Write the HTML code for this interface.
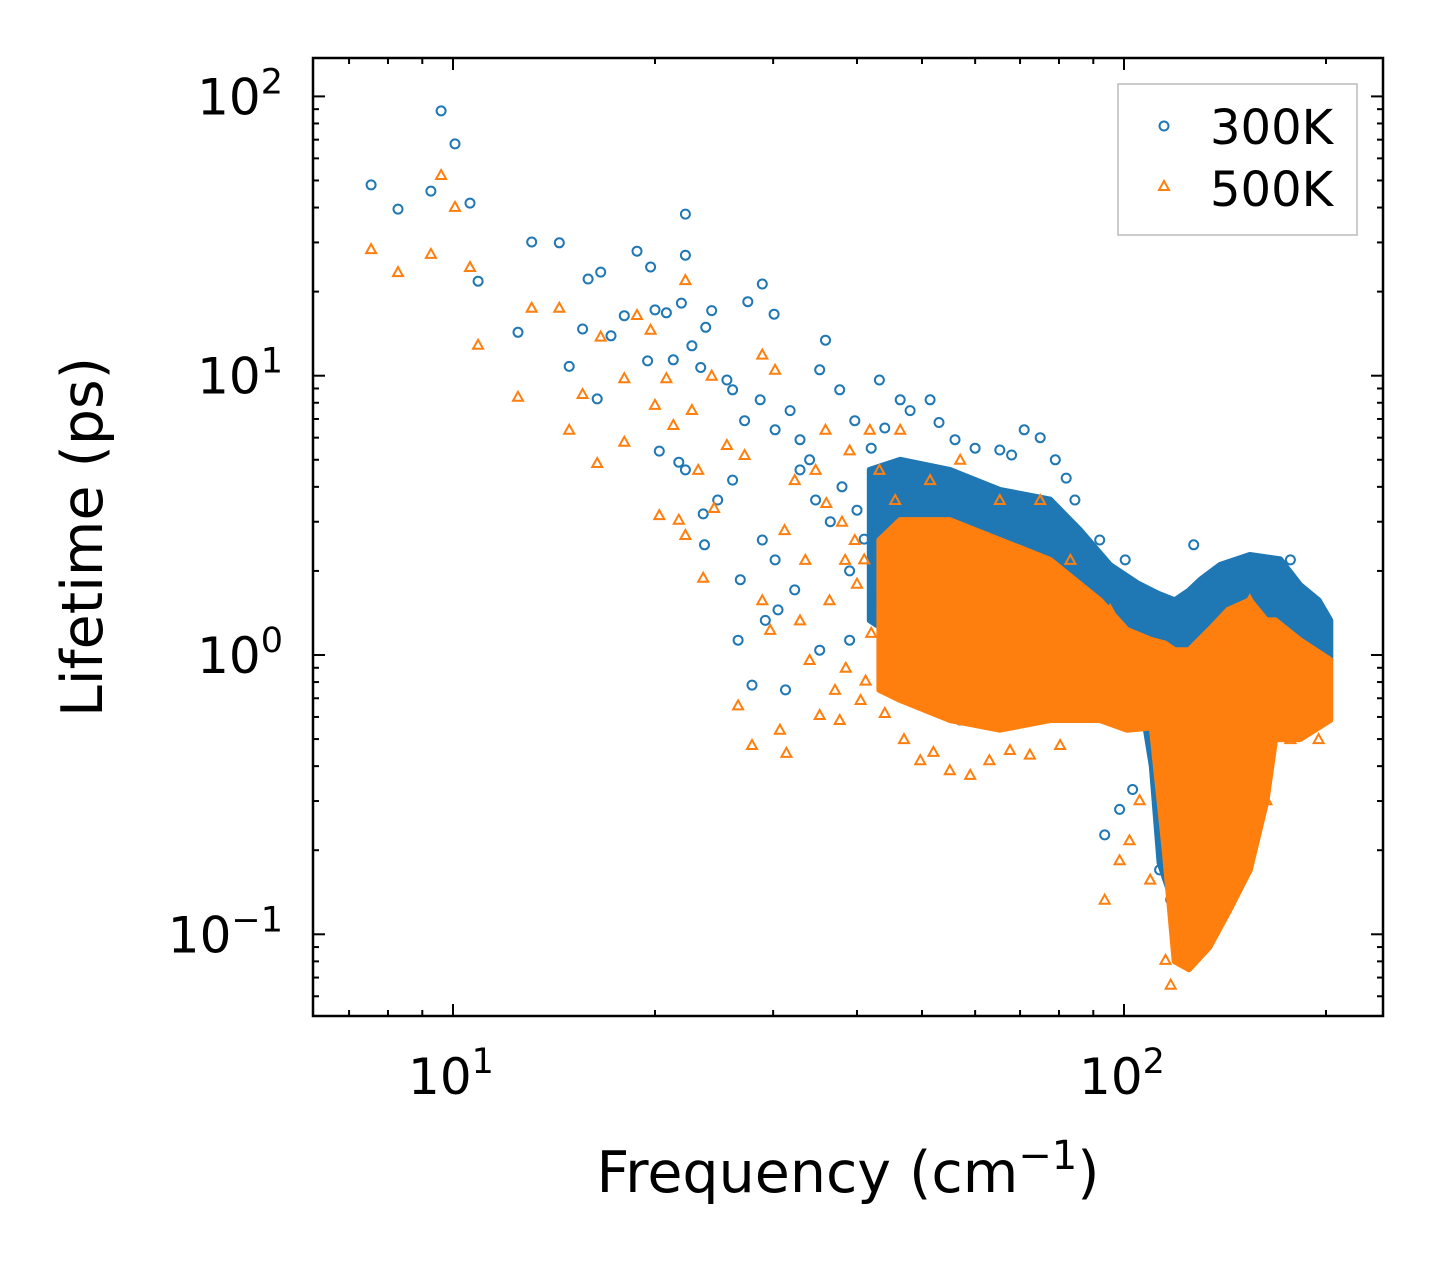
<!DOCTYPE html>
<html><head><meta charset="utf-8"><style>
html,body{margin:0;padding:0;background:#fff;}
svg{display:block;font-family:"DejaVu Sans","Liberation Sans",sans-serif;}
</style></head><body>
<svg id="chart" width="1442" height="1265" viewBox="0 0 1442 1265" xmlns="http://www.w3.org/2000/svg">
<rect width="1442" height="1265" fill="#fff"/>
<g id="bands"></g>
<g id="points"></g>
<g id="axes"></g>
<text x="848" y="1192" font-size="57" text-anchor="middle">Frequency (cm<tspan dy="-23" font-size="40">−1</tspan><tspan dy="23">)</tspan></text>
<text transform="translate(102,537) rotate(-90)" font-size="57" text-anchor="middle">Lifetime (ps)</text>
<g>
<rect x="1118" y="84" width="239" height="151" fill="#fff" stroke="#bbb" stroke-width="1.5"/>
<circle cx="1164" cy="126" r="4.5" fill="none" stroke="#1f77b4" stroke-width="2"/>
<text x="1210" y="144" font-size="48">300K</text>
<polygon points="1164,181 1169,190 1159,190" fill="none" stroke="#ff7f0e" stroke-width="2"/>
<text x="1210" y="206" font-size="48">500K</text>
</g>
</svg>
<script>
// ---- data ----
const blueFreq=[7.55,8.28,9.27,9.6,10.07,10.6,10.9,12.5,13.1,14.4,14.9,15.6,15.9,16.6,16.4,17.2,18.0,18.8,19.7,19.5,20.0,20.3,20.8,21.3,21.9,22.2,22.2,22.2,21.7,22.7,23.4,23.8,24.3,23.6,25.6,26.1,27.5,28.9,30.1,26.6,27.9,28.9,30.2,30.5,31.3,32.3,35.2,31.8,32.9,34.0,35.2,35.9,37.7,39.7,43.2,46.4,51.4,46.4,56,65.3,71,79,84.5,92,100.4,127,177,39,43.2,51.4,57,65.3,86,93.6,98.5,103,113,117.4,123,131,154,183,30.2,28.7,27.2,26.1,24.8,23.7,26.8,29.2,32.9,34.7,38,40,41,36.5,39,42,44,48,53,60,68,75,82];
const blueLife=[48.2,39.5,45.8,88.7,67.6,41.5,21.8,14.3,30.1,29.9,10.8,14.7,22.2,23.5,8.26,13.9,16.4,27.9,24.5,11.3,17.2,5.37,16.8,11.4,18.2,27.0,37.9,4.6,4.9,12.8,10.7,14.9,17.1,3.2,9.65,8.9,18.4,21.3,16.6,1.13,0.78,2.58,2.19,1.45,0.75,1.71,1.04,7.5,5.9,5.0,10.5,13.4,8.9,6.9,9.65,8.2,8.2,4.23,5.9,5.42,6.4,5.0,3.59,2.58,2.19,2.48,2.19,1.13,1.57,0.81,0.585,0.69,0.69,0.227,0.28,0.33,0.17,0.133,0.2,0.42,0.69,0.69,6.4,8.2,6.9,4.23,3.59,2.48,1.86,1.33,4.6,3.59,4.0,3.3,2.6,3.0,2.0,5.5,6.5,7.5,6.8,5.5,5.2,6.0,4.3];
const orangeFreq=[7.55,8.28,9.27,9.6,10.07,10.6,10.9,12.5,13.1,14.4,14.9,15.6,16.4,16.6,18.0,18.0,18.8,19.7,20.0,20.3,20.8,21.3,21.7,22.2,22.2,22.7,23.2,23.6,24.3,24.5,25.6,26.6,27.2,27.9,28.9,28.9,30.2,30.7,31.4,29.7,32.3,32.9,34.0,35.2,37.1,37.7,36.4,38.4,39.7,40.5,41.2,31.2,33.5,34.7,35.9,39.0,41.8,43.2,45.6,49.7,55,59,63,67.6,72.4,80.3,93.6,98.5,101.9,105.5,109.4,115.3,117.4,123.4,129.7,143,154,163,177,195,46.4,51.4,57.0,65.3,75,83.2,95.3,154,143,36,38,40,42,38.5,41,44,47,52];
const orangeLife=[28.4,23.5,27.3,52.3,40.2,24.5,12.9,8.4,17.5,17.5,6.4,8.6,4.87,13.8,9.8,5.8,16.5,14.6,7.86,3.17,9.8,6.66,3.05,22.0,2.69,7.54,4.6,1.89,10.0,3.36,5.65,0.66,5.2,0.476,1.57,11.9,10.5,0.54,0.446,1.23,4.23,1.33,0.96,0.61,0.75,0.585,1.57,2.19,2.58,0.69,0.81,2.8,2.19,4.6,6.4,5.4,6.4,4.6,3.59,0.42,0.387,0.372,0.42,0.457,0.44,0.476,0.133,0.184,0.217,0.302,0.157,0.081,0.066,0.095,0.133,0.17,0.236,0.302,0.5,0.5,6.4,4.23,5.0,3.59,3.59,2.19,1.45,1.57,1.13,3.5,3.0,1.8,1.2,0.9,2.2,0.62,0.5,0.45];
// dense-region envelopes (frequency, upper lifetime, lower lifetime)
const blueBandFreq=[41.8,46.4,55.0,65.3,77.6,86.0,95.3,105,110,113,119,125,130,139,154,171,183,195,203];
const blueBandHi=[4.6,5.0,4.6,3.9,3.6,2.8,2.1,1.8,1.7,1.65,1.57,1.7,1.86,2.1,2.28,2.2,1.78,1.57,1.33];
const blueBandLo=[1.33,1.13,1.04,0.96,1.04,1.13,1.13,0.8,0.4,0.18,0.125,0.3,0.69,0.96,0.96,1.04,1.04,0.96,0.96];
const orangeBandFreq=[43.2,46.4,55,65.3,77.6,92.1,101,110,115,119,125,134,143,154,163,168,183,203];
const orangeBandHi=[2.58,3.04,3.04,2.58,2.19,1.57,1.23,1.13,1.1,1.04,1.04,1.23,1.45,1.57,1.33,1.33,1.13,0.96];
const orangeBandLo=[0.75,0.69,0.585,0.54,0.585,0.585,0.54,0.55,0.2,0.08,0.075,0.09,0.12,0.17,0.3,0.5,0.5,0.585];
const yMajorTicks=[-1,0,1,2];
const xMajorTicks=[1,2];

// ---- axes functions ----
const L=313,R=1383,T=58,B=1016;
const X0=453,XD=671,Y0=655,YD=279.3;
const xs=f=>X0+(Math.log10(f)-1)*XD;
const ys=t=>Y0-Math.log10(t)*YD;
const NS='http://www.w3.org/2000/svg';
function mk(tag,attrs,parent){const e=document.createElementNS(NS,tag);for(const k in attrs)e.setAttribute(k,attrs[k]);parent.appendChild(e);return e;}

function bandPts(fr,hi,lo){
  const pts=[];
  for(let i=0;i<fr.length;i++)pts.push(xs(fr[i]).toFixed(1)+','+ys(hi[i]).toFixed(1));
  for(let i=fr.length-1;i>=0;i--)pts.push(xs(fr[i]).toFixed(1)+','+ys(lo[i]).toFixed(1));
  return pts.join(' ');
}
const pts=document.getElementById('points');
const gB=mk('g',{},pts);


const bb=mk('polygon',{points:bandPts(blueBandFreq,blueBandHi,blueBandLo),fill:'#1f77b4',stroke:'#1f77b4','stroke-width':6,'stroke-linejoin':'round'},gB);


for(let i=0;i<blueFreq.length;i++){
  const c=mk('circle',{cx:xs(blueFreq[i]).toFixed(1),cy:ys(blueLife[i]).toFixed(1),r:4.5,fill:'none',stroke:'#1f77b4','stroke-width':2},gB);
  
  
}
const gO=mk('g',{},pts);


const obp=mk('polygon',{points:bandPts(orangeBandFreq,orangeBandHi,orangeBandLo),fill:'#ff7f0e',stroke:'#ff7f0e','stroke-width':6,'stroke-linejoin':'round'},gO);


for(let i=0;i<orangeFreq.length;i++){
  const x=xs(orangeFreq[i]),y=ys(orangeLife[i]);
  const t=mk('polygon',{points:`${x.toFixed(1)},${(y-5).toFixed(1)} ${(x+5).toFixed(1)},${(y+4).toFixed(1)} ${(x-5).toFixed(1)},${(y+4).toFixed(1)}`,fill:'none',stroke:'#ff7f0e','stroke-width':2},gO);
  
  
}

// ---- axes ----
const ax=document.getElementById('axes');
const frame=mk('rect',{x:L,y:T,width:R-L,height:B-T,fill:'none',stroke:'#000','stroke-width':2.5},ax);


function tickX(x,len){mk('line',{x1:x,x2:x,y1:B,y2:B-len,stroke:'#000','stroke-width':2},ax);mk('line',{x1:x,x2:x,y1:T,y2:T+len,stroke:'#000','stroke-width':2},ax);}
function tickY(y,len){mk('line',{x1:L,x2:L+len,y1:y,y2:y,stroke:'#000','stroke-width':2},ax);mk('line',{x1:R,x2:R-len,y1:y,y2:y,stroke:'#000','stroke-width':2},ax);}
for(let d=0;d<=2;d++)for(let m=1;m<=9;m++){const x=xs(m*Math.pow(10,d));if(x>L+1&&x<R-1)tickX(x,m===1?12:6);}
for(let d=-2;d<=2;d++)for(let m=1;m<=9;m++){const y=ys(m*Math.pow(10,d));if(y>T+1&&y<B-1)tickY(y,m===1?12:6);}
xMajorTicks.forEach(e=>{
  const t=mk('text',{x:xs(Math.pow(10,e))-2,y:1094,'font-size':50,'text-anchor':'middle'},ax);
  t.innerHTML='10<tspan dy="-21" font-size="35">'+e+'</tspan>';
  
  
});
yMajorTicks.forEach(e=>{
  const t=mk('text',{x:283,y:ys(Math.pow(10,e))+18,'font-size':50,'text-anchor':'end'},ax);
  t.innerHTML='10<tspan dy="-21" font-size="35">'+(e<0?'−'+(-e):e)+'</tspan>';
  
  
});
</script>
</body></html>
